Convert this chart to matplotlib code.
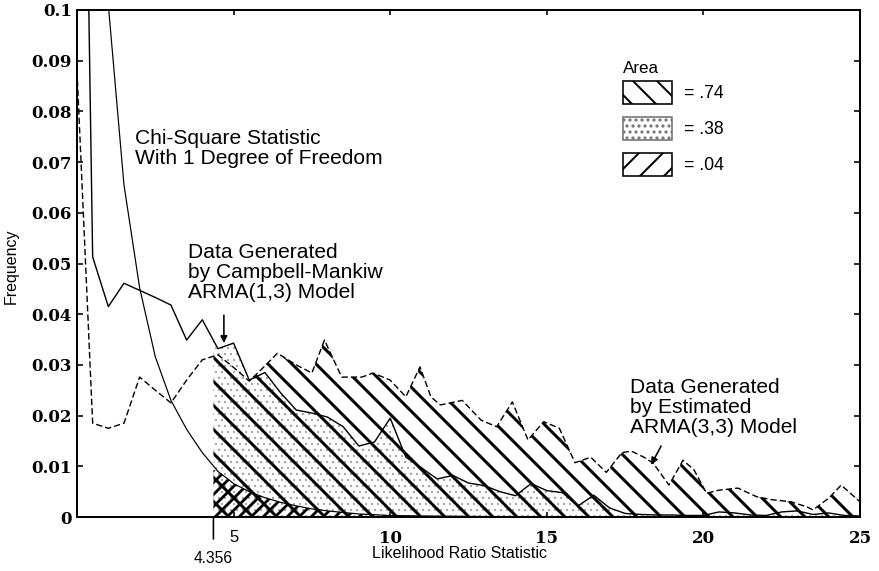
import numpy as np
import matplotlib
matplotlib.use('Agg')
import matplotlib.pyplot as plt
from matplotlib.patches import Patch

# chi-square (1 dof) frequencies
chi_x = [0.5, 1.0, 1.5, 2.0, 2.5, 3.0, 3.5, 4.0, 4.5, 5.0, 5.5, 6.0, 6.5, 7.0, 7.5,
         8.0, 8.5, 9.0, 10.0, 11.0, 13.0, 25.0]
chi_y = [0.180, 0.101, 0.0655, 0.0452, 0.0316, 0.0230, 0.0173, 0.0127, 0.0090, 0.0066,
         0.0050, 0.0038, 0.0029, 0.0022, 0.0016, 0.0012, 0.0009, 0.0006, 0.0003, 0.0002,
         0.0001, 0.0]

# Campbell-Mankiw ARMA(1,3) generated data (solid)
cm_x = np.arange(0, 25.5, 0.5)
cm_y = [0.25, 0.0513, 0.0415, 0.0461, 0.0447, 0.0433, 0.0418, 0.0349, 0.0389, 0.0332,
        0.0343, 0.0270, 0.0285, 0.0245, 0.0211, 0.0205, 0.0197, 0.0178, 0.0140, 0.0148,
        0.0195, 0.0118, 0.0097, 0.0075, 0.0082, 0.0067, 0.0062, 0.0050, 0.0042, 0.0066,
        0.0052, 0.0048, 0.0022, 0.0043, 0.0018, 0.0007, 0.0005, 0.0004, 0.0004, 0.0003,
        0.0003, 0.0010, 0.0008, 0.0004, 0.0003, 0.0010, 0.0012, 0.0005, 0.0008, 0.0003,
        0.0002]

# estimated ARMA(3,3) generated data (dashed)
arma_x = [0.0, 0.5, 1.0, 1.5, 2.0, 2.5, 3.0, 3.5, 4.0, 4.5, 5.0, 5.5, 5.9, 6.4, 7.0,
          7.5, 7.9, 8.45, 9.1, 9.45, 10.0, 10.5, 10.95, 11.3, 11.6, 12.3, 12.9, 13.4,
          13.9, 14.4, 14.9, 15.4, 15.9, 16.4, 16.9, 17.4, 17.7, 18.1, 18.4, 18.9, 19.35,
          19.7, 20.1, 20.5, 21.1, 21.7, 22.2, 22.8, 23.3, 23.5, 24.0, 24.4, 25.0]
arma_y = [0.088, 0.0185, 0.0175, 0.0185, 0.0276, 0.0250, 0.0225, 0.0270, 0.0310, 0.0320,
          0.0295, 0.0268, 0.0292, 0.0323, 0.0300, 0.0284, 0.0349, 0.0276, 0.0276, 0.0284,
          0.0270, 0.0237, 0.0296, 0.0237, 0.0221, 0.0230, 0.0191, 0.0178, 0.0227, 0.0152,
          0.0188, 0.0175, 0.0107, 0.0118, 0.0088, 0.0127, 0.0130, 0.0118, 0.0106, 0.0063,
          0.0112, 0.0093, 0.0047, 0.0053, 0.0057, 0.0040, 0.0034, 0.0030, 0.0020, 0.0014,
          0.0037, 0.0063, 0.0030]

crit = 4.356
# heights of each curve at the critical value
chi_crit, cm_crit, arma_crit = 0.0093, 0.0347, 0.0318

areas = ['= .74', '= .38', '= .04']
y_ticks = [0, 0.01, 0.02, 0.03, 0.04, 0.05, 0.06, 0.07, 0.08, 0.09, 0.1]
y_labels = ['0', '0.01', '0.02', '0.03', '0.04', '0.05', '0.06', '0.07', '0.08', '0.09', '0.1']
x_ticks = [5, 10, 15, 20, 25]

SANS = 'Liberation Sans'
SERIF = 'DejaVu Serif'
STIPPLE = '0.45'


def tail(x, y, start, y0):
    x = np.asarray(x, dtype=float)
    y = np.asarray(y, dtype=float)
    m = x > start
    return np.r_[start, x[m]], np.r_[y0, y[m]]


def hatched(ax, x, y, hatch, hlw, color, z):
    with plt.rc_context({'hatch.linewidth': hlw, 'hatch.color': color}):
        c = ax.fill_between(x, 0, y, facecolor='none', edgecolor=color, hatch=hatch,
                            linewidth=0, zorder=z)
        if hasattr(c, 'set_hatch_linewidth'):
            c.set_hatch_linewidth(hlw)
    return c


DPI = 144
fig = plt.figure(figsize=(879 / DPI, 571 / DPI), dpi=DPI)
ax = fig.add_axes([77 / 879, 54 / 571, 783 / 879, 507 / 571])

# shaded tails beyond the critical value
tx, ty = tail(cm_x, cm_y, crit, cm_crit)
hatched(ax, tx, ty, '....', 0.25, STIPPLE, 1)
tx, ty = tail(arma_x, arma_y, crit, arma_crit)
hatched(ax, tx, ty, '\\\\', 1.5, 'black', 2)
tx, ty = tail(chi_x, chi_y, crit, chi_crit)
hatched(ax, tx, ty, '////', 1.4, 'black', 3)

ax.plot(chi_x, chi_y, color='black', lw=0.6, zorder=4)
ax.plot(cm_x, cm_y, color='black', lw=0.7, zorder=4)
ax.plot(arma_x, arma_y, color='black', lw=0.7, dashes=(4.5, 2.2), zorder=4)

ax.set_xlim(0, 25)
ax.set_ylim(0, 0.1)
ax.set_yticks(y_ticks)
ax.set_yticklabels(y_labels)
ax.set_xticks(x_ticks)
ax.set_xticklabels([str(t) for t in x_ticks])
for lab in ax.get_xticklabels() + ax.get_yticklabels():
    lab.set_fontfamily(SERIF)
    lab.set_fontweight('bold')
    lab.set_fontsize(8.3)
ax.get_xticklabels()[0].set_fontfamily(SANS)
ax.get_xticklabels()[0].set_fontweight('normal')
ax.tick_params(axis='y', direction='in', length=3, width=0.8, left=True, right=True, pad=2.5)
ax.tick_params(axis='x', direction='in', length=2.5, width=0.8, top=True, pad=6.5)
for s in ax.spines.values():
    s.set_linewidth(1.0)

ax.set_xlabel('Likelihood Ratio Statistic', fontfamily=SANS, fontsize=8)
ax.xaxis.set_label_coords(0.489, -0.058)
ax.set_ylabel('Frequency', fontfamily=SANS, fontsize=8)
ax.yaxis.set_label_coords(-0.074, 0.495)

# critical value marker below the axis
ax.annotate('4.356', xy=(crit, 0), xytext=(0, -17), textcoords='offset points',
            ha='center', va='top', fontfamily=SANS, fontsize=7.8,
            arrowprops=dict(arrowstyle='-', lw=0.8, color='black', shrinkA=4, shrinkB=0),
            annotation_clip=False)

txt = dict(fontfamily=SANS, fontsize=10.5, ha='left', va='top', linespacing=1.05)
ax.text(1.85, 0.0765, 'Chi-Square Statistic\nWith 1 Degree of Freedom', **txt)
ax.text(3.54, 0.054, 'Data Generated\nby Campbell-Mankiw\nARMA(1,3) Model', **txt)
ax.text(17.66, 0.0274, 'Data Generated\nby Estimated\nARMA(3,3) Model', **txt)

arrow = dict(arrowstyle='-|>', lw=0.8, color='black', mutation_scale=7, shrinkA=0, shrinkB=0)
ax.annotate('', xy=(4.69, 0.0343), xytext=(4.69, 0.0398), arrowprops=arrow, zorder=5)
ax.annotate('', xy=(18.33, 0.0103), xytext=(18.65, 0.0140), arrowprops=arrow, zorder=5)

handles = []
for h, ec in [('\\\\', 'black'), ('....', STIPPLE), ('//', 'black')]:
    with plt.rc_context({'hatch.linewidth': 1.4 if h != '....' else 0.25}):
        p = Patch(facecolor='white', edgecolor=ec, hatch=h, lw=0.8)
    handles.append(p)
ax.text(0.697, 0.876, 'Area', transform=ax.transAxes, fontfamily=SANS, fontsize=8.5,
        ha='left', va='baseline')
leg = ax.legend(handles, areas, loc='upper left',
                bbox_to_anchor=(0.697, 0.86), frameon=False, borderpad=0,
                borderaxespad=0, handlelength=2.8, handleheight=1.65,
                labelspacing=0.72, handletextpad=0.7,
                prop={'family': SANS, 'size': 8.8})

fig.savefig('out.png', dpi=DPI)
